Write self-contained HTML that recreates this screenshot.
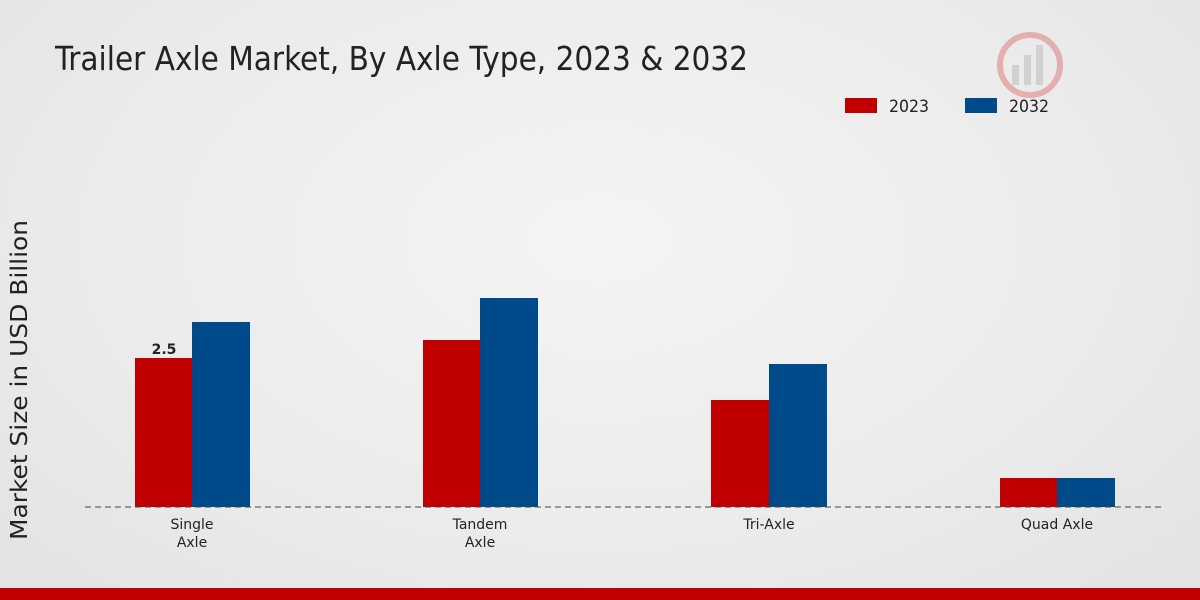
<!DOCTYPE html>
<html><head><style>
html,body{margin:0;padding:0;}
body{width:1200px;height:600px;overflow:hidden;background:radial-gradient(ellipse at 50% 40%,#f4f4f4 0%,#ebebeb 60%,#e2e2e2 100%);font-family:"DejaVu Sans","Liberation Sans",sans-serif;}
</style></head><body>
<svg width="1200" height="600" xmlns="http://www.w3.org/2000/svg" style="position:absolute;left:0;top:0">
<text x="55" y="70" font-size="33" fill="#222" textLength="693" lengthAdjust="spacingAndGlyphs" font-family="DejaVu Sans Condensed, DejaVu Sans, sans-serif">Trailer Axle Market, By Axle Type, 2023 &amp; 2032</text>
<g opacity="0.25">
<circle cx="1030" cy="65" r="30" fill="none" stroke="#c00" stroke-width="6"/>
<rect x="1012" y="65" width="7" height="20" fill="#888"/>
<rect x="1024" y="55" width="7" height="30" fill="#888"/>
<rect x="1036" y="45" width="7" height="40" fill="#888"/>
</g>
<rect x="845" y="98" width="32" height="15" fill="#c00000"/>
<text x="889" y="112" font-size="17" fill="#222" textLength="40" lengthAdjust="spacingAndGlyphs">2023</text>
<rect x="965" y="98" width="32" height="15" fill="#004a8a"/>
<text x="1009" y="112" font-size="17" fill="#222" textLength="40" lengthAdjust="spacingAndGlyphs">2032</text>
<text transform="translate(27,380) rotate(-90)" font-size="23" fill="#222" text-anchor="middle" textLength="320" lengthAdjust="spacingAndGlyphs">Market Size in USD Billion</text>
<rect x="135" y="358" width="57" height="149" fill="#c00000"/>
<rect x="192" y="322" width="58" height="185" fill="#004a8a"/>
<rect x="423" y="340" width="57" height="167" fill="#c00000"/>
<rect x="480" y="298" width="58" height="209" fill="#004a8a"/>
<rect x="711" y="400" width="58" height="107" fill="#c00000"/>
<rect x="769" y="364" width="58" height="143" fill="#004a8a"/>
<rect x="1000" y="478" width="57" height="29" fill="#c00000"/>
<rect x="1057" y="478" width="58" height="29" fill="#004a8a"/>
<text x="164" y="354" font-size="14" font-weight="bold" fill="#222" text-anchor="middle">2.5</text>
<line x1="85" y1="507" x2="1165" y2="507" stroke="#444" stroke-width="1" stroke-dasharray="6,4"/>
<g font-size="14" fill="#222" text-anchor="middle">
<text x="192" y="529">Single</text><text x="192" y="547">Axle</text>
<text x="480" y="529">Tandem</text><text x="480" y="547">Axle</text>
<text x="769" y="529">Tri-Axle</text>
<text x="1057" y="529">Quad Axle</text>
</g>
<rect x="0" y="588" width="1200" height="12" fill="#c00000"/>
</svg>
</body></html>
